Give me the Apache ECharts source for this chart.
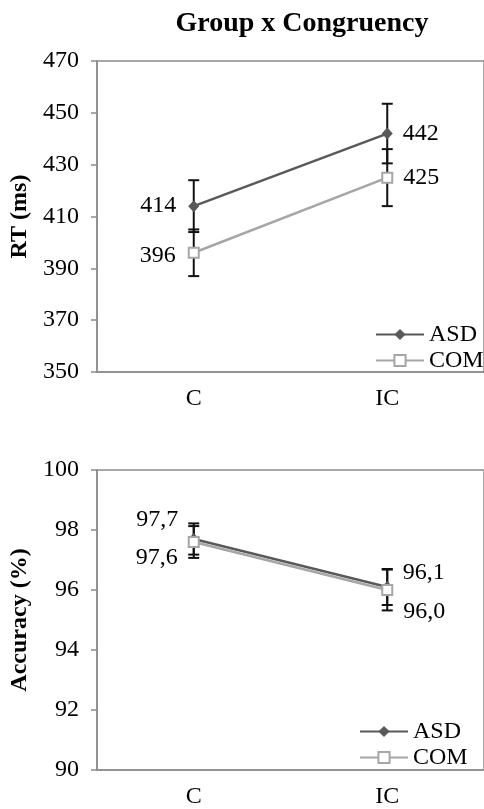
<!DOCTYPE html>
<html>
<head>
<meta charset="utf-8">
<script src="https://cdn.jsdelivr.net/npm/echarts@6/dist/echarts.min.js"></script>
<style>
  html, body { margin: 0; padding: 0; background: #fff; }
  #main { width: 484px; height: 809px; }
</style>
</head>
<body>
<div id="main"></div>
<script>
// data
var categories = ['C', 'IC'];
var seriesNames = ['ASD', 'COM'];

// reaction time (ms): means and error half-widths
var rtAsd = [414, 442];
var rtAsdErr = [10, 11.5];
var rtCom = [396, 425];
var rtComErr = [9, 11];
var rtTicks = [350, 370, 390, 410, 430, 450, 470];

// accuracy (%): means and error half-widths
var accAsd = [97.7, 96.1];
var accAsdErr = [0.52, 0.6];
var accCom = [97.6, 96.0];
var accComErr = [0.53, 0.68];
var accTicks = [90, 92, 94, 96, 98, 100];

var FONT = 'Liberation Serif';
var FS = 24;
var ASD_COLOR = '#595959';
var COM_COLOR = '#a6a6a6';
var AXIS_COLOR = '#8c8c8c';

var chart = echarts.init(document.getElementById('main'));

function errData(means, errs) {
	return means.map(function (m, i) { return [i, m - errs[i], m + errs[i]]; });
}

function errRender(params, api) {
	var lo = api.coord([api.value(0), api.value(1)]);
	var hi = api.coord([api.value(0), api.value(2)]);
	var w = 5.5;
	var st = { stroke: '#111', lineWidth: 2 };
	return {
		type: 'group',
		children: [
			{ type: 'line', shape: { x1: lo[0], y1: lo[1], x2: hi[0], y2: hi[1] }, style: st },
			{ type: 'line', shape: { x1: lo[0] - w, y1: lo[1], x2: lo[0] + w, y2: lo[1] }, style: st },
			{ type: 'line', shape: { x1: hi[0] - w, y1: hi[1], x2: hi[0] + w, y2: hi[1] }, style: st }
		]
	};
}

// label placement per point: [position, dy, distance]
function withLabels(values, places, fmt) {
	return values.map(function (v, i) {
		return {
			value: v,
			label: {
				show: true,
				position: places[i][0],
				distance: places[i][2],
				offset: [0, places[i][1]],
				formatter: fmt
			}
		};
	});
}

function comma(p) { return p.value.toFixed(1).replace('.', ','); }
function plain(p) { return String(p.value); }

var labelStyle = { fontFamily: FONT, fontSize: FS, color: '#000' };

function lineSeries(name, xi, data, isAsd) {
	return {
		name: name,
		type: 'line',
		xAxisIndex: xi,
		yAxisIndex: xi,
		data: data,
		z: 3,
		symbol: isAsd ? 'diamond' : 'rect',
		symbolSize: isAsd ? [11, 12] : 10,
		itemStyle: isAsd
			? { color: ASD_COLOR }
			: { color: '#fff', borderColor: COM_COLOR, borderWidth: 2 },
		lineStyle: { color: isAsd ? ASD_COLOR : COM_COLOR, width: 2.5 },
		label: labelStyle,
		emphasis: { disabled: true },
		silent: true
	};
}

function xAxisCfg(gi) {
	return {
		type: 'category',
		gridIndex: gi,
		data: categories,
		axisLine: { lineStyle: { color: AXIS_COLOR, width: 1.5 } },
		axisTick: { length: 6, lineStyle: { color: AXIS_COLOR, width: 1.5 } },
		axisLabel: { fontFamily: FONT, fontSize: FS, color: '#000', margin: 15 }
	};
}

function yAxisCfg(gi, min, max, ticks, name) {
	return {
		type: 'value',
		gridIndex: gi,
		min: min,
		max: max,
		name: name,
		nameLocation: 'middle',
		nameGap: 61,
		nameTextStyle: { fontFamily: FONT, fontSize: 24, fontWeight: 'bold', color: '#000' },
		axisLine: { show: true, lineStyle: { color: AXIS_COLOR, width: 1.5 } },
		axisTick: { show: true, length: 6, customValues: ticks, lineStyle: { color: AXIS_COLOR, width: 1.5 } },
		axisLabel: { fontFamily: FONT, fontSize: FS, color: '#000', margin: 18, customValues: ticks },
		splitLine: { show: false }
	};
}

function legendCfg(left, top) {
	return {
		data: seriesNames,
		orient: 'vertical',
		left: left,
		top: top,
		padding: 0,
		itemWidth: 48,
		itemHeight: 14,
		itemGap: 1,
		selectedMode: false,
		textStyle: { fontFamily: FONT, fontSize: FS, color: '#000', lineHeight: 25 }
	};
}

var option = {
	animation: false,
	backgroundColor: '#fff',
	title: {
		text: 'Group x Congruency',
		left: 297,
		top: 5,
		textAlign: 'center',
		textStyle: { fontFamily: FONT, fontSize: 28, fontWeight: 'bold', color: '#000' }
	},
	legend: [legendCfg(375, 322), legendCfg(359, 719)],
	grid: [
		{ left: 97, top: 61, width: 390, height: 311, show: true, borderColor: AXIS_COLOR, borderWidth: 1.5 },
		{ left: 97, top: 470, width: 390, height: 300, show: true, borderColor: AXIS_COLOR, borderWidth: 1.5 }
	],
	xAxis: [xAxisCfg(0), xAxisCfg(1)],
	yAxis: [
		yAxisCfg(0, 350, 470, rtTicks, 'RT (ms)'),
		yAxisCfg(1, 90, 100, accTicks, 'Accuracy (%)')
	],
	series: [
		{ type: 'custom', xAxisIndex: 0, yAxisIndex: 0, z: 1, silent: true, renderItem: errRender, data: errData(rtAsd, rtAsdErr) },
		{ type: 'custom', xAxisIndex: 0, yAxisIndex: 0, z: 1, silent: true, renderItem: errRender, data: errData(rtCom, rtComErr) },
		{ type: 'custom', xAxisIndex: 1, yAxisIndex: 1, z: 1, silent: true, renderItem: errRender, data: errData(accAsd, accAsdErr) },
		{ type: 'custom', xAxisIndex: 1, yAxisIndex: 1, z: 1, silent: true, renderItem: errRender, data: errData(accCom, accComErr) },
		lineSeries('ASD', 0, withLabels(rtAsd, [['left', 0, 12], ['right', 0, 10]], plain), true),
		lineSeries('COM', 0, withLabels(rtCom, [['left', 3, 12], ['right', 0, 10]], plain), false),
		lineSeries('ASD', 1, withLabels(accAsd, [['left', -19, 10], ['right', -14, 10]], comma), true),
		lineSeries('COM', 1, withLabels(accCom, [['left', 16, 10], ['right', 22, 10]], comma), false)
	]
};

chart.setOption(option);
</script>
</body>
</html>
